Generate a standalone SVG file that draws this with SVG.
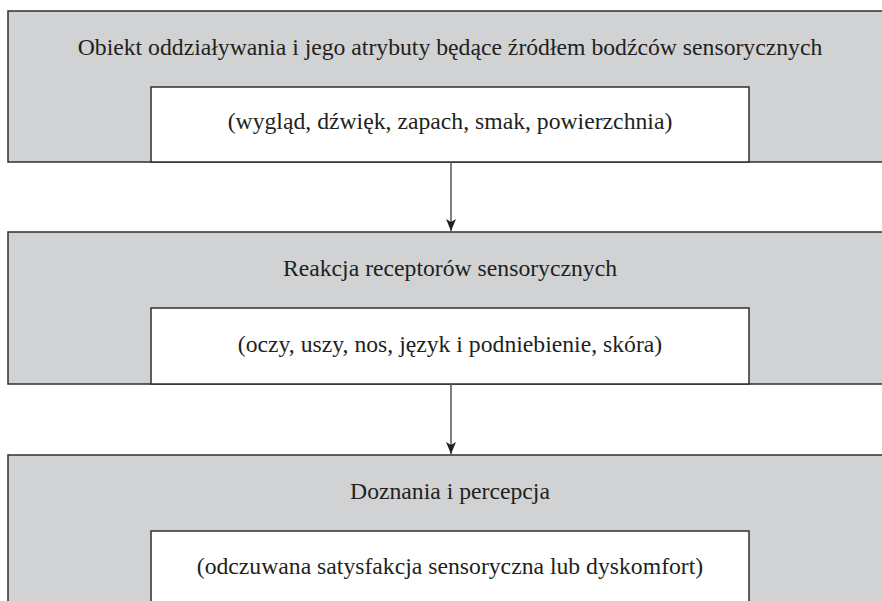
<svg xmlns="http://www.w3.org/2000/svg" width="882" height="601" viewBox="0 0 882 601">
  <defs>
    <style>
      .outer { fill: #d1d2d4; stroke: #2f2f2f; stroke-width: 1.5; }
      .inner { fill: #ffffff; stroke: #2f2f2f; stroke-width: 1.5; }
      .t { font-family: "Liberation Serif", "Times New Roman", serif; font-size: 23.7px; fill: #231f20; text-anchor: middle; }
      .conn { stroke: #555555; stroke-width: 1.5; fill: none; }
    </style>
    <marker id="arrow" viewBox="0 0 12 10" markerWidth="12" markerHeight="10" refX="12" refY="5" orient="auto" markerUnits="userSpaceOnUse">
      <path d="M0,0 L3,5 L0,10 L12,5 Z" fill="#231f20"/>
    </marker>
  </defs>
  <rect width="882" height="601" fill="#ffffff"/>
  <g id="node1">
    <rect class="outer" x="8" y="11" width="880" height="151"/>
    <text class="t" x="450" y="55">Obiekt oddziaływania i jego atrybuty będące źródłem bodźców sensorycznych</text>
    <rect class="inner" x="151" y="87" width="598" height="75"/>
    <text class="t" x="450" y="129">(wygląd, dźwięk, zapach, smak, powierzchnia)</text>
  </g>
  <g id="node2">
    <rect class="outer" x="8" y="232" width="880" height="152"/>
    <text class="t" x="450" y="276">Reakcja receptorów sensorycznych</text>
    <rect class="inner" x="151" y="308" width="598" height="76"/>
    <text class="t" x="450" y="352">(oczy, uszy, nos, język i podniebienie, skóra)</text>
  </g>
  <g id="node3">
    <rect class="outer" x="8" y="455" width="880" height="160"/>
    <text class="t" x="450" y="499">Doznania i percepcja</text>
    <rect class="inner" x="151" y="531" width="598" height="84"/>
    <text class="t" x="450" y="574">(odczuwana satysfakcja sensoryczna lub dyskomfort)</text>
  </g>
  <g id="connectors">
    <line class="conn" x1="451" y1="162" x2="451" y2="231" marker-end="url(#arrow)"/>
    <line class="conn" x1="451" y1="384" x2="451" y2="454" marker-end="url(#arrow)"/>
  </g>
</svg>
